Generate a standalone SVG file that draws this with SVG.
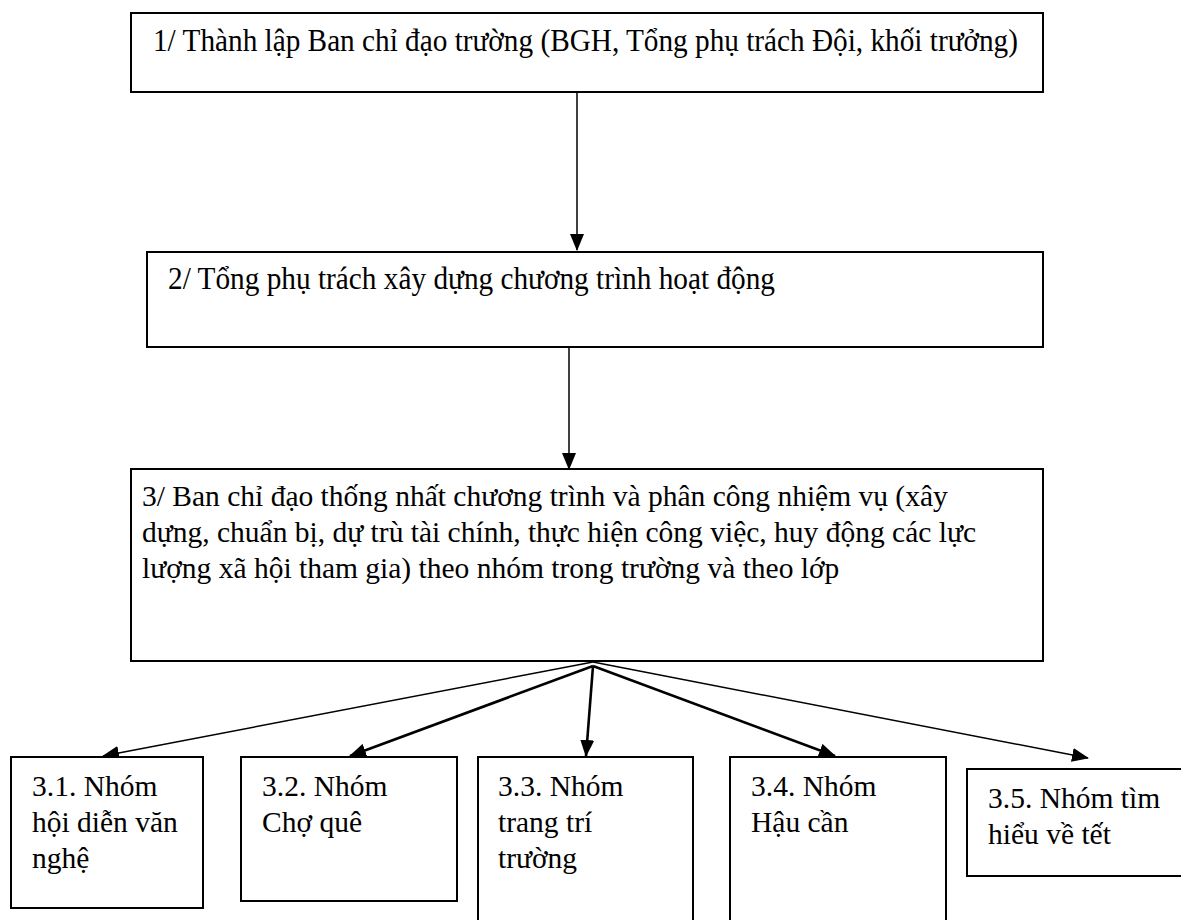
<svg xmlns="http://www.w3.org/2000/svg" width="1181" height="920" viewBox="0 0 1181 920">
<defs>
<style>
.box{fill:#fff;stroke:#000;stroke-width:2}
.t{font-family:"Liberation Serif","Times New Roman",serif;font-size:29.5px;fill:#000}
.c{stroke:#000;fill:none}
.thin{stroke-width:1.5}
.thick{stroke-width:2.6}
</style>
<marker id="ah" markerUnits="userSpaceOnUse" markerWidth="18" markerHeight="14" refX="16" refY="7" orient="auto" viewBox="0 0 18 14">
<path d="M0,0 L17,7 L0,14 z" fill="#000"/>
</marker>
</defs>
<rect width="1181" height="920" fill="#fff"/>
<g id="connectors">
<line class="c thin" x1="577" y1="92" x2="577" y2="250" marker-end="url(#ah)"/>
<line class="c thin" x1="569" y1="347" x2="569" y2="469" marker-end="url(#ah)"/>
<line class="c thin" x1="593" y1="662" x2="103" y2="756" marker-end="url(#ah)"/>
<line class="c thick" x1="593" y1="666" x2="350" y2="756" marker-end="url(#ah)"/>
<line class="c thick" x1="593" y1="666" x2="586" y2="756" marker-end="url(#ah)"/>
<line class="c thick" x1="593" y1="666" x2="835" y2="756" marker-end="url(#ah)"/>
<line class="c thin" x1="593" y1="662" x2="1088" y2="758" marker-end="url(#ah)"/>
</g>
<g id="n1">
<rect class="box" x="131" y="13" width="912" height="79"/>
<text class="t" x="153" y="51" style="font-size:30.5px" textLength="865" lengthAdjust="spacingAndGlyphs">1/ Thành lập Ban chỉ đạo trường (BGH, Tổng phụ trách Đội, khối trưởng)</text>
</g>
<g id="n2">
<rect class="box" x="147" y="252" width="896" height="95"/>
<text class="t" x="168" y="289" style="font-size:30.5px" textLength="607" lengthAdjust="spacingAndGlyphs">2/ Tổng phụ trách xây dựng chương trình hoạt động</text>
</g>
<g id="n3">
<rect class="box" x="131" y="469" width="912" height="192"/>
<text class="t" x="142" y="506">3/ Ban chỉ đạo thống nhất chương trình và phân công nhiệm vụ (xây</text>
<text class="t" x="142" y="542">dựng, chuẩn bị, dự trù tài chính, thực hiện công việc, huy động các lực</text>
<text class="t" x="142" y="578">lượng xã hội tham gia) theo nhóm trong trường và theo lớp</text>
</g>
<g id="n31">
<rect class="box" x="11" y="757" width="192" height="151"/>
<text class="t" x="32" y="796">3.1. Nhóm</text>
<text class="t" x="32" y="832">hội diễn văn</text>
<text class="t" x="32" y="868">nghệ</text>
</g>
<g id="n32">
<rect class="box" x="241" y="757" width="216" height="144"/>
<text class="t" x="262" y="796">3.2. Nhóm</text>
<text class="t" x="262" y="832">Chợ quê</text>
</g>
<g id="n33">
<rect class="box" x="478" y="757" width="215" height="175"/>
<text class="t" x="498" y="796">3.3. Nhóm</text>
<text class="t" x="498" y="832">trang trí</text>
<text class="t" x="498" y="868">trường</text>
</g>
<g id="n34">
<rect class="box" x="730" y="757" width="216" height="175"/>
<text class="t" x="751" y="796">3.4. Nhóm</text>
<text class="t" x="751" y="832">Hậu cần</text>
</g>
<g id="n35">
<rect class="box" x="967" y="769" width="230" height="107"/>
<text class="t" x="988" y="808">3.5. Nhóm tìm</text>
<text class="t" x="988" y="844">hiểu về tết</text>
</g>
</svg>
